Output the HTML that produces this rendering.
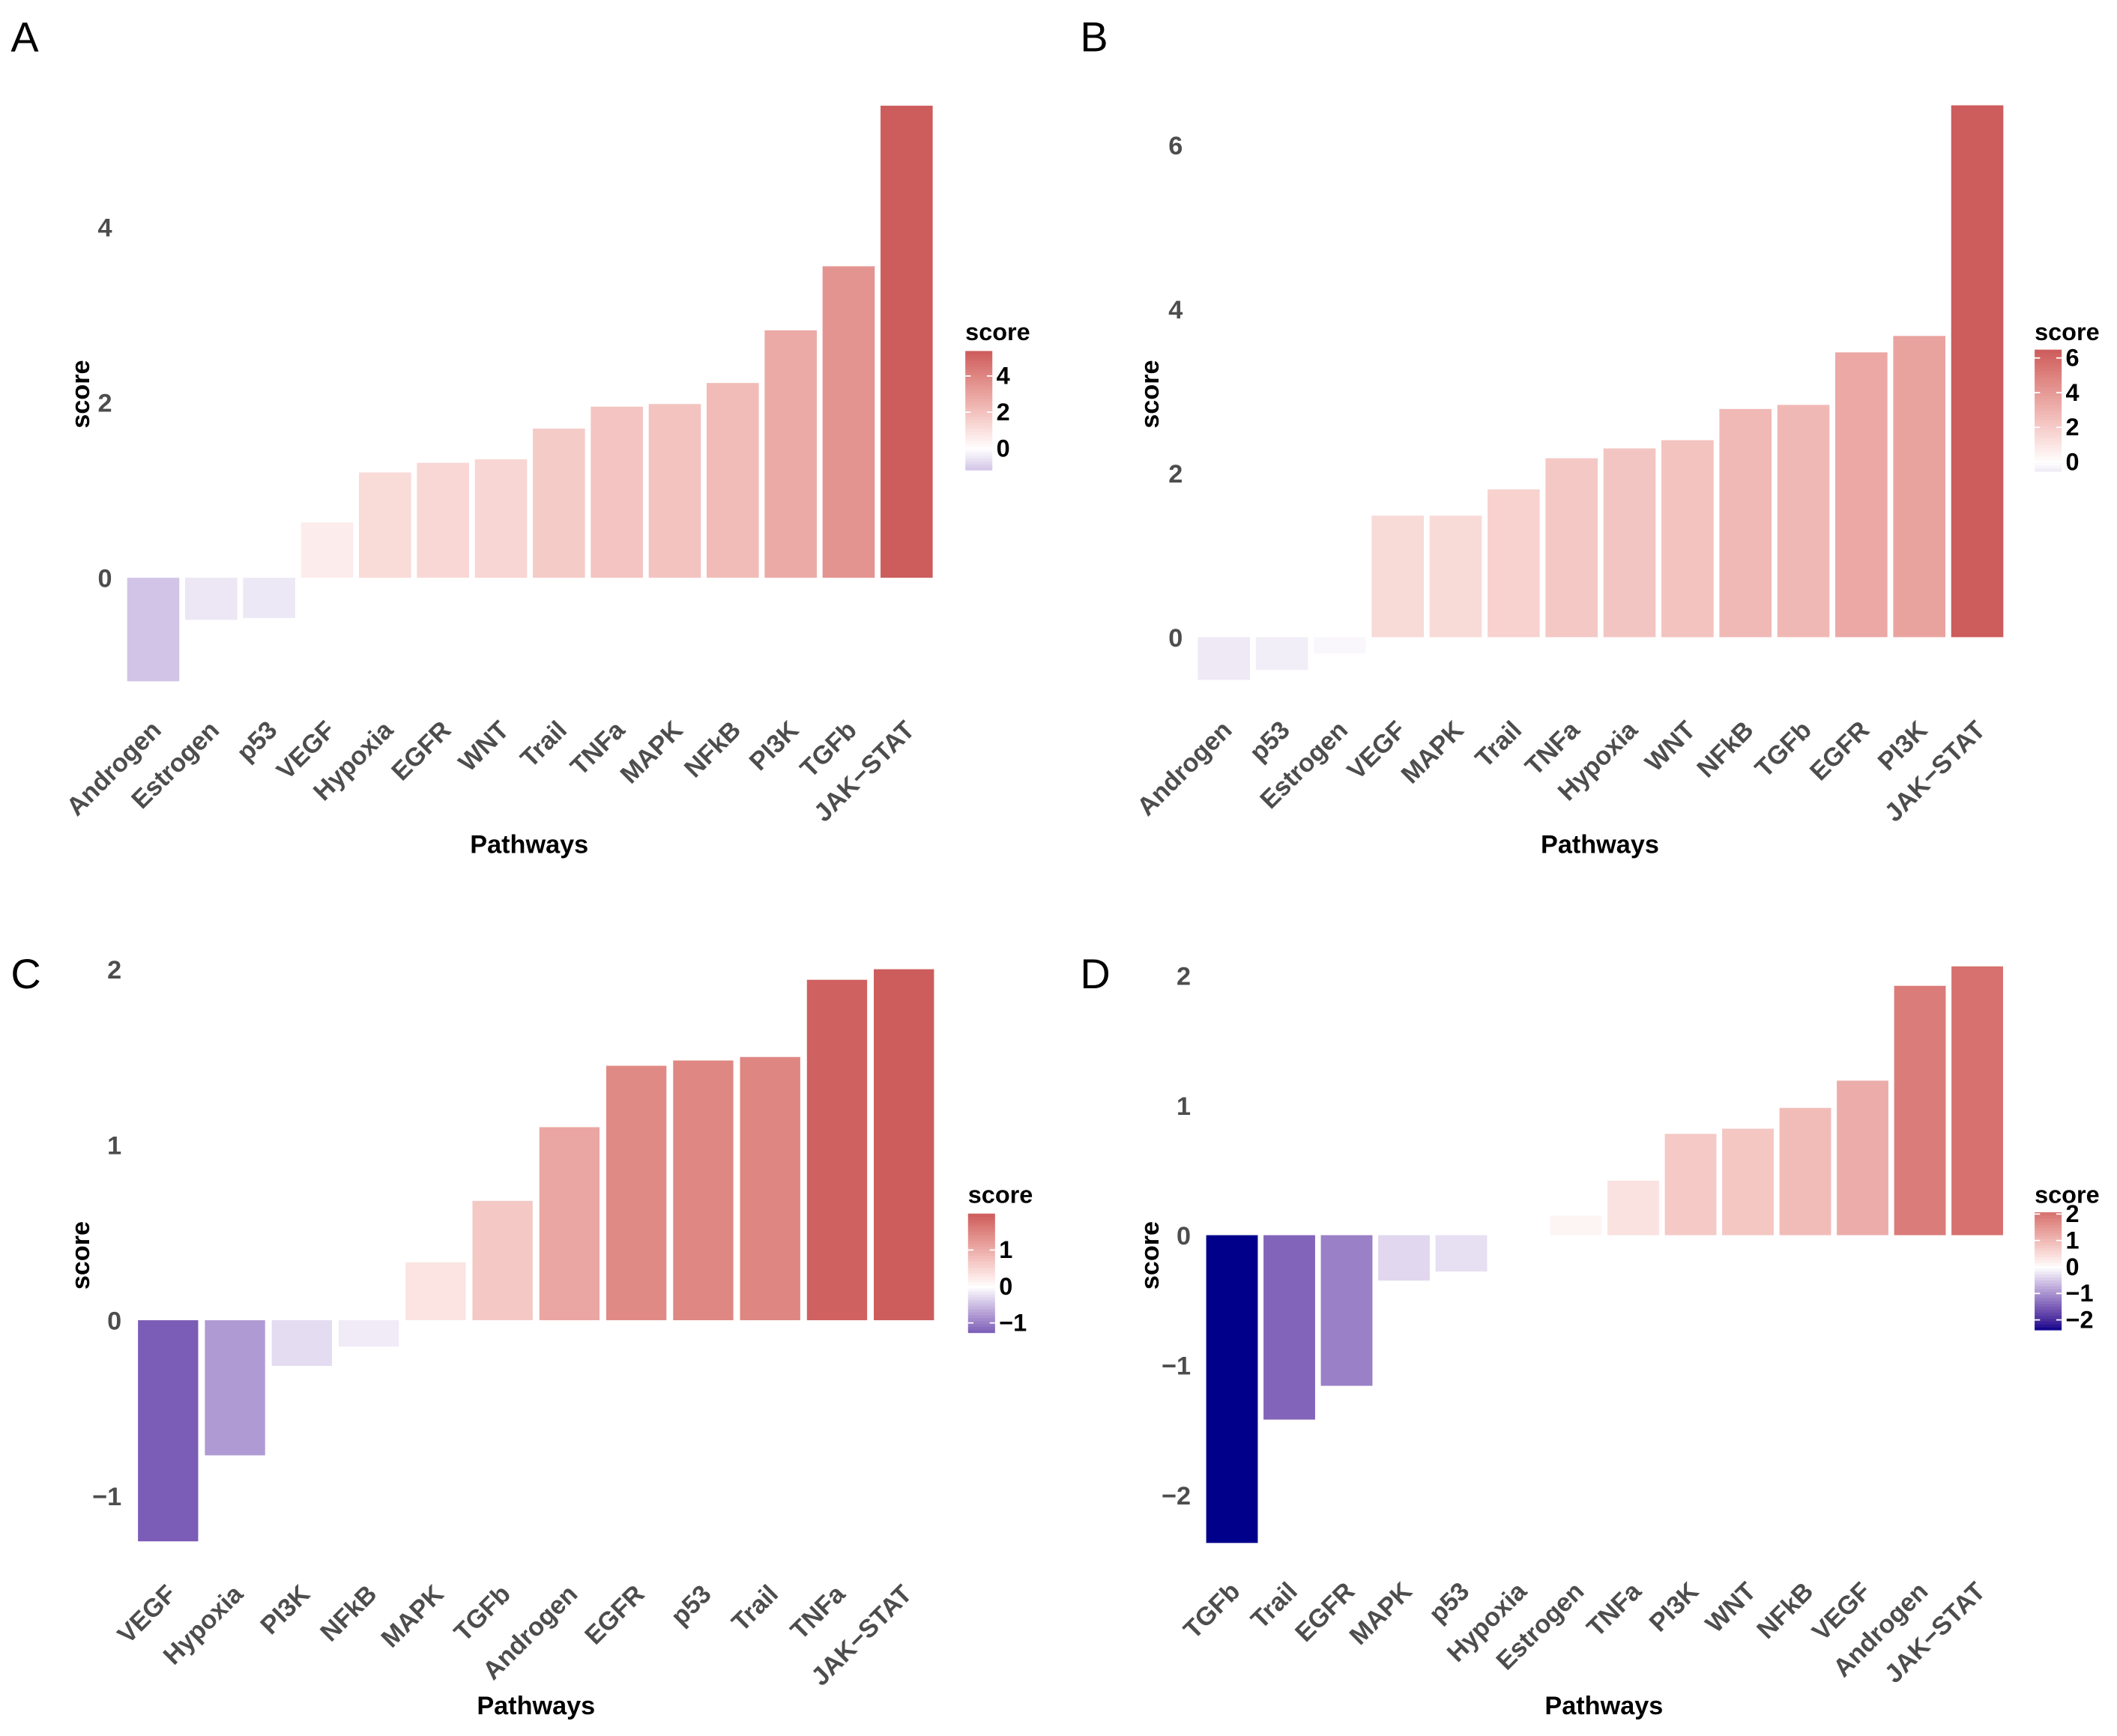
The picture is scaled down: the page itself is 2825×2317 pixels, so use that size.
<!DOCTYPE html>
<html><head><meta charset="utf-8"><style>
html,body{margin:0;padding:0;background:#fff}
svg{display:block}
text{font-family:"Liberation Sans",Arial,sans-serif}
</style></head><body>
<svg id="fig" xmlns="http://www.w3.org/2000/svg" width="2825" height="2317" viewBox="0 0 1568 1286" preserveAspectRatio="none"></svg>
<script>
const catsA=["Androgen","Estrogen","p53","VEGF","Hypoxia","EGFR","WNT","Trail","TNFa","MAPK","NFkB","PI3K","TGFb","JAK-STAT"];
const valsA=[-1.18,-0.48,-0.46,0.63,1.2,1.31,1.35,1.7,1.95,1.98,2.22,2.82,3.55,5.38];
const ticksA=[0,2,4];
const legTicksA=[0,2,4];
const catsB=["Androgen","p53","Estrogen","VEGF","MAPK","Trail","TNFa","Hypoxia","WNT","NFkB","TGFb","EGFR","PI3K","JAK-STAT"];
const valsB=[-0.52,-0.4,-0.2,1.48,1.48,1.8,2.18,2.3,2.4,2.78,2.83,3.47,3.67,6.48];
const ticksB=[0,2,4,6];
const legTicksB=[0,2,4,6];
const catsC=["VEGF","Hypoxia","PI3K","NFkB","MAPK","TGFb","Androgen","EGFR","p53","Trail","TNFa","JAK-STAT"];
const valsC=[-1.26,-0.77,-0.26,-0.15,0.33,0.68,1.1,1.45,1.48,1.5,1.94,2.0];
const ticksC=[-1,0,1,2];
const legTicksC=[-1,0,1];
const catsD=["TGFb","Trail","EGFR","MAPK","p53","Hypoxia","Estrogen","TNFa","PI3K","WNT","NFkB","VEGF","Androgen","JAK-STAT"];
const valsD=[-2.37,-1.42,-1.16,-0.35,-0.28,0.01,0.15,0.42,0.78,0.82,0.98,1.19,1.92,2.07];
const ticksD=[-2,-1,0,1,2];
const legTicksD=[-2,-1,0,1,2];

const NS="http://www.w3.org/2000/svg";
const svg=document.getElementById('fig');
function el(tag,attrs,parent,txt){const e=document.createElementNS(NS,tag);for(const k in attrs)e.setAttribute(k,attrs[k]);if(txt!==undefined)e.textContent=txt;(parent||svg).appendChild(e);return e;}
function toLin(c){c/=255;return c<=0.04045?c/12.92:Math.pow((c+0.055)/1.055,2.4);}
function fromLin(c){c=c<=0.0031308?12.92*c:1.055*Math.pow(c,1/2.4)-0.055;return Math.max(0,Math.min(255,Math.round(c*255)));}
function rgb2lab(r,g,b){r=toLin(r);g=toLin(g);b=toLin(b);
 let X=(r*0.4124+g*0.3576+b*0.1805)/0.95047,Y=r*0.2126+g*0.7152+b*0.0722,Z=(r*0.0193+g*0.1192+b*0.9505)/1.08883;
 const f=t=>t>0.008856?Math.cbrt(t):7.787*t+16/116;X=f(X);Y=f(Y);Z=f(Z);return[116*Y-16,500*(X-Y),200*(Y-Z)];}
function lab2rgb(L,a,b){let Y=(L+16)/116,X=a/500+Y,Z=Y-b/200;const fi=t=>t*t*t>0.008856?t*t*t:(t-16/116)/7.787;
 X=fi(X)*0.95047;Y=fi(Y);Z=fi(Z)*1.08883;
 const r=X*3.2406+Y*-1.5372+Z*-0.4986,g=X*-0.9689+Y*1.8758+Z*0.0415,bb=X*0.0557+Y*-0.2040+Z*1.0570;
 return `rgb(${fromLin(r)},${fromLin(g)},${fromLin(bb)})`;}
const LOW=rgb2lab(0,0,139),MID=rgb2lab(255,255,255),HIGH=rgb2lab(205,92,92);
function colorFor(v,vals){const m=Math.max(...vals.map(Math.abs));const t=Math.max(-1,Math.min(1,v/m));
 const end=t<0?LOW:HIGH,a=Math.abs(t);return lab2rgb(MID[0]+(end[0]-MID[0])*a,MID[1]+(end[1]-MID[1])*a,MID[2]+(end[2]-MID[2])*a);}

function panel(cfg){
 const {id,letter,lx,ly,cats,vals,ticks,legTicks,x0,x1,y0px,unit,tickX,ytX,ytY,xtY,xtX,labY,leg}=cfg;
 const g=el('g',{});
 
 
 const L=el('text',{x:lx,y:ly,'font-size':31,fill:'#000'},g,letter);
 
 const n=cats.length,pitch=(x1-x0)/(n-1),bw=pitch*0.9;
 const xs=i=>x0+i*pitch, ys=v=>y0px-v*unit;
 ticks.forEach(t=>{const e=el('text',{x:tickX,y:ys(t)+7,'font-size':19,'font-weight':'bold',fill:'#4d4d4d','text-anchor':'end'},g,String(t).replace('-','\u2212'));
  });
 cats.forEach((c,i)=>{const v=vals[i];const top=Math.min(ys(v),y0px),h=Math.abs(ys(v)-y0px);
  const r=el('rect',{x:xs(i)-bw/2,y:top,width:bw,height:Math.max(h,0.6),fill:colorFor(v,vals)},g);
  
  const cx=xs(i)+7;
  const t=el('text',{x:cx,y:labY,'font-size':19,'font-weight':'bold',fill:'#4d4d4d','text-anchor':'end',transform:`rotate(-45 ${cx} ${labY})`},g,c.replace('-','\u2212'));
  });
 const yt=el('text',{x:ytX,y:ytY,'font-size':19,'font-weight':'bold',fill:'#000','text-anchor':'middle',transform:`rotate(-90 ${ytX} ${ytY})`},g,'score');
 
 const xt=el('text',{x:xtX,y:xtY,'font-size':19,'font-weight':'bold',fill:'#000','text-anchor':'middle'},g,'Pathways');
 
 const lg=el('g',{},g);
 el('text',{x:leg.x,y:leg.ty,'font-size':18,'font-weight':'bold',fill:'#000'},lg,'score');
 const mn=Math.min(...vals),mx=Math.max(...vals);
 const ly2=v=>leg.b-(v-mn)/(mx-mn)*(leg.b-leg.t);
 const steps=40;for(let k=0;k<steps;k++){const v0=mn+(mx-mn)*k/steps,v1=mn+(mx-mn)*(k+1)/steps;
  el('rect',{x:leg.x,y:ly2(v1),width:20,height:ly2(v0)-ly2(v1)+0.5,fill:colorFor((v0+v1)/2,vals)},lg);}
 legTicks.forEach(t=>{const y=ly2(t);el('line',{x1:leg.x,x2:leg.x+4,y1:y,y2:y,stroke:'#fff','stroke-width':1},lg);el('line',{x1:leg.x+16,x2:leg.x+20,y1:y,y2:y,stroke:'#fff','stroke-width':1},lg);
  el('text',{x:leg.x+23,y:y+6,'font-size':18,'font-weight':'bold',fill:'#000'},lg,String(t).replace('-','\u2212'));});
}
panel({id:'a',letter:'A',lx:8,ly:38,cats:catsA,vals:valsA,ticks:ticksA,legTicks:legTicksA,x0:113.5,x1:671.5,y0px:428,unit:65,tickX:83,ytX:66,ytY:292,xtX:392,xtY:632,labY:542,leg:{x:715,ty:252,t:260,b:348}});
panel({id:'b',letter:'B',lx:800,ly:38,cats:catsB,vals:valsB,ticks:ticksB,legTicks:legTicksB,x0:906.5,x1:1464.5,y0px:472,unit:60.8,tickX:876,ytX:858,ytY:292,xtX:1185,xtY:632,labY:542,leg:{x:1507,ty:252,t:259,b:349}});
panel({id:'c',letter:'C',lx:8,ly:732,cats:catsC,vals:valsC,ticks:ticksC,legTicks:legTicksC,x0:124.5,x1:669.5,y0px:978,unit:130,tickX:90,ytX:66,ytY:930,xtX:397,xtY:1270,labY:1182,leg:{x:717,ty:891,t:899,b:987}});
panel({id:'d',letter:'D',lx:800,ly:732,cats:catsD,vals:valsD,ticks:ticksD,legTicks:legTicksD,x0:912.5,x1:1464.5,y0px:915,unit:96.2,tickX:882,ytX:858,ytY:930,xtX:1188,xtY:1270,labY:1180,leg:{x:1507,ty:891,t:898,b:985}});
</script>
</body></html>
